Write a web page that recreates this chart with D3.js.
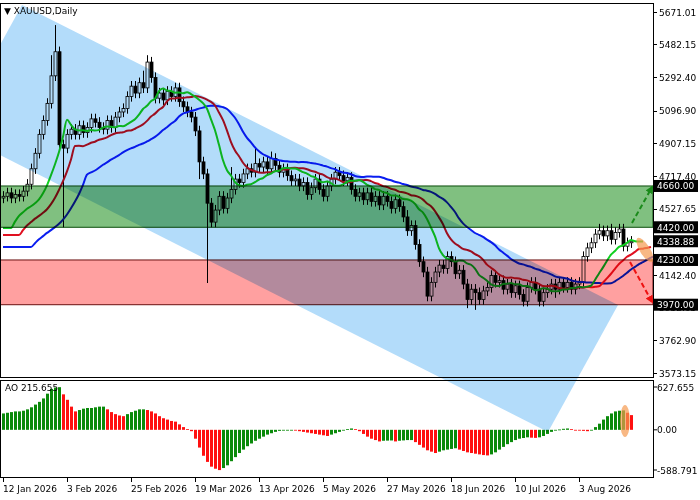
<!DOCTYPE html>
<html><head><meta charset="utf-8">
<script src="https://cdn.jsdelivr.net/npm/d3@7"></script>
<style>body{margin:0;background:#fff}text{font-family:"DejaVu Sans",sans-serif;font-size:9px}</style>
</head><body><svg width="700" height="500"></svg>
<script>
// daily closes, open = previous close
var closes = [4600,4620,4590,4610,4600,4630,4670,4760,4850,4960,5040,5140,5300,5440,4900,4880,4960,4990,4960,5010,
4970,5000,5050,5030,5000,4990,5040,5000,5060,5090,5110,5180,5240,5200,5260,5230,5380,5290,5170,5200,
5160,5210,5180,5230,5150,5120,5090,5060,4980,4800,4730,4560,4450,4520,4600,4530,4590,4640,4700,4680,
4730,4760,4740,4790,4770,4800,4760,4820,4780,4740,4760,4720,4690,4700,4660,4680,4610,4650,4700,4640,
4600,4660,4700,4740,4720,4690,4710,4640,4600,4620,4580,4620,4570,4600,4550,4600,4570,4530,4580,4540,
4480,4400,4430,4320,4220,4160,4020,4100,4160,4200,4180,4250,4220,4150,4170,4090,4000,4060,4040,4000,
4050,4070,4140,4100,4110,4060,4090,4040,4080,4030,3990,4070,4100,4060,3990,4040,4060,4090,4060,4100,
4070,4100,4060,4090,4100,4250,4300,4330,4380,4400,4370,4400,4350,4390,4410,4310,4330,4338.88];
var firstOpen = 4590;
var wick = 30;
var highs = [[13,5595],[12,5420],[36,5420],[35,5330],[57,4770],[63,4880],[67,4860],[101,4520],[146,4330],[149,4440],[152,4440],[155,4440]];
var lows = [[15,4420],[51,4096],[49,4700],[106,3990],[116,3950],[118,3940],[134,3960],[138,4010]];
var ao = [240,250,260,270,270,280,300,330,370,410,460,530,600,620,625,
520,440,340,270,290,310,320,320,330,340,340,300,260,230,210,200,230,260,280,300,300,
290,270,240,200,170,150,130,120,80,40,10,-20,-130,-260,-380,-470,-540,-570,-590,
-560,-520,-460,-400,-340,-290,-240,-200,-160,-130,-100,-70,-50,-30,-15,-10,-6,-4,
-10,-20,-30,-40,-50,-60,-70,-80,-90,-70,-50,-30,-10,10,20,10,-20,-60,-100,-130,-150,-170,
-160,-158,-156,-170,-160,-155,-150,-150,-180,-220,-260,-300,-320,-340,-320,-300,-290,-280,-270,
-290,-310,-330,-340,-350,-360,-370,-375,-360,-330,-290,-250,-210,-180,-150,-130,-120,-110,-115,-118,-110,-90,-60,-30,
-10,5,15,20,10,0,-10,-15,-20,0,40,90,150,200,240,270,280,285,250,215.655];
var dateLabels = ["12 Jan 2026","3 Feb 2026","25 Feb 2026","19 Mar 2026","13 Apr 2026","5 May 2026","27 May 2026","18 Jun 2026","10 Jul 2026","3 Aug 2026"];
var dateIdx = [0,16,32,48,64,80,96,112,128,144];
var priceTicks = [5671.01,5482.15,5292.40,5096.90,4907.15,4717.40,4527.65,4142.40,3952.65,3762.90,3573.15];
var levels = [4660,4420,4338.88,4230,3970];
var zones = [{hi:4660,lo:4420,fill:"#80c080",stroke:"#0b4d0b"},{hi:4230,lo:3970,fill:"#ffa0a0",stroke:"#6a1010"}];
var channel = [[-0.75,5479],[4.75,5711],[153.75,3969],[136.25,3230],[-0.75,4840]];
// alligator: [period, shift, seed, colour]
var lines = [[13,8,4305,"#0a1ef0"],[8,5,4375,"#e01020"],[5,3,4416,"#10d020"]];

var svg = d3.select("svg");
var x = d3.scaleLinear().domain([0,157]).range([3,631]);
var y = d3.scaleLinear().domain([3573.15,5671.01]).range([373,12]);
var ya = d3.scaleLinear().domain([-588.791,627.655]).range([470,387]);
var R = 653;

svg.append("rect").attr("width",700).attr("height",500).attr("fill","#fff");
svg.append("defs").append("clipPath").attr("id","main").append("rect").attr("x",1).attr("y",4).attr("width",R-1).attr("height",373);
var main = svg.append("g").attr("clip-path","url(#main)");

var opens = closes.map(function(c,i){ return i ? closes[i-1] : firstOpen; });
var hmap = new Map(highs), lmap = new Map(lows);
var candles = main.append("g").selectAll("g").data(closes).enter().append("g");
candles.append("line").attr("x1",function(d,i){return x(i)+0.5}).attr("x2",function(d,i){return x(i)+0.5})
  .attr("y1",function(d,i){return y(hmap.has(i)?hmap.get(i):Math.max(d,opens[i])+wick)})
  .attr("y2",function(d,i){return y(lmap.has(i)?lmap.get(i):Math.min(d,opens[i])-wick)})
  .attr("stroke","#000");
candles.append("rect").attr("x",function(d,i){return x(i)-1}).attr("width",3)
  .attr("y",function(d,i){return y(Math.max(d,opens[i]))})
  .attr("height",function(d,i){return Math.max(1,Math.abs(y(d)-y(opens[i])))})
  .attr("fill",function(d,i){return d>=opens[i]?"#fff":"#000"}).attr("stroke","#000").attr("stroke-width",0.8);

lines.forEach(function(l){
  var n=l[0], s=l[1], v=l[2], pts=[];
  for (var j=0;j<s;j++) pts.push([j,v]);
  closes.forEach(function(c,i){ v=(v*(n-1)+c)/n; pts.push([i+s,v]); });
  main.append("path").attr("d",d3.line().x(function(p){return x(p[0])}).y(function(p){return y(p[1])}).curve(d3.curveMonotoneX)(pts))
    .attr("fill","none").attr("stroke",l[3]).attr("stroke-width",2);
});

zones.forEach(function(z){
  main.append("rect").attr("x",0).attr("width",R).attr("y",y(z.hi)).attr("height",y(z.lo)-y(z.hi))
    .attr("fill",z.fill).style("mix-blend-mode","multiply").attr("stroke",z.stroke);
});

// AO panel
svg.append("g").selectAll("rect").data(ao).enter().append("rect")
  .attr("x",function(d,i){return x(i)-1}).attr("width",3)
  .attr("y",function(d){return Math.min(ya(d),ya(0))}).attr("height",function(d){return Math.max(0.8,Math.abs(ya(d)-ya(0)))})
  .attr("fill",function(d,i){return i&&d<ao[i-1]?"#ff1010":"#0a8a0a"});

svg.append("path").attr("d",d3.line().x(function(p){return x(p[0])}).y(function(p){return y(p[1])})(channel)+"Z")
  .attr("fill","#b3dcfa").style("mix-blend-mode","multiply");

// arrows
var defs = svg.select("defs");
[["g","#1a8a1a"],["r","#ee1111"]].forEach(function(a){
  defs.append("marker").attr("id","ar"+a[0]).attr("viewBox","0 0 10 10").attr("refX",8).attr("refY",5)
    .attr("markerWidth",4).attr("markerHeight",4).attr("orient","auto")
    .append("path").attr("d","M0,0L10,5L0,10Z").attr("fill",a[1]);
});
svg.append("line").attr("x1",x(157.25)).attr("y1",y(4445)).attr("x2",x(162.3)).attr("y2",y(4655))
  .attr("stroke","#1a8a1a").attr("stroke-width",2).attr("stroke-dasharray","5,3").attr("marker-end","url(#arg)");
svg.append("line").attr("x1",x(156.75)).attr("y1",y(4218)).attr("x2",x(162.3)).attr("y2",y(3985))
  .attr("stroke","#ee1111").attr("stroke-width",2).attr("stroke-dasharray","5,3").attr("marker-end","url(#arr)");
svg.append("ellipse").attr("cx",x(160.5)).attr("cy",y(4288)).attr("rx",5).attr("ry",14)
  .attr("transform","rotate(-32,"+x(160.5)+","+y(4288)+")").attr("fill","#f59a50").attr("fill-opacity",0.7);
svg.append("ellipse").attr("cx",x(155.5)).attr("cy",ya(130)).attr("rx",5).attr("ry",16).attr("fill","#f59a50").attr("fill-opacity",0.7);

// frames
svg.append("rect").attr("x",0.5).attr("y",3.5).attr("width",R).attr("height",374).attr("fill","none").attr("stroke","#000");
svg.append("rect").attr("x",0.5).attr("y",380.5).attr("width",R).attr("height",97).attr("fill","none").attr("stroke","#000");

// price axis
priceTicks.forEach(function(t){
  svg.append("line").attr("x1",R).attr("x2",R+4).attr("y1",Math.round(y(t))+0.5).attr("y2",Math.round(y(t))+0.5).attr("stroke","#000");
  svg.append("text").attr("x",R+6).attr("y",y(t)+3.5).text(t.toFixed(2));
});
levels.forEach(function(t){
  svg.append("rect").attr("x",R+1).attr("y",y(t)-6).attr("width",44).attr("height",12).attr("fill","#000");
  svg.append("text").attr("x",R+4).attr("y",y(t)+3.5).attr("fill","#fff").text(t.toFixed(2));
});
[627.655,0,-588.791].forEach(function(t){
  svg.append("line").attr("x1",R).attr("x2",R+4).attr("y1",ya(t)).attr("y2",ya(t)).attr("stroke","#000");
  svg.append("text").attr("x",R+4).attr("y",ya(t)+3.5).text(t===0?"0.00":t.toFixed(3));
});
dateIdx.forEach(function(d,k){
  svg.append("line").attr("x1",x(d)+0.5).attr("x2",x(d)+0.5).attr("y1",478).attr("y2",482).attr("stroke","#000");
  svg.append("text").attr("x",x(d)).attr("y",492).text(dateLabels[k]);
});
svg.append("text").attr("x",4).attr("y",14).text("\u25BC XAUUSD,Daily");
svg.append("text").attr("x",5).attr("y",391).text("AO 215.655");
</script></body></html>
